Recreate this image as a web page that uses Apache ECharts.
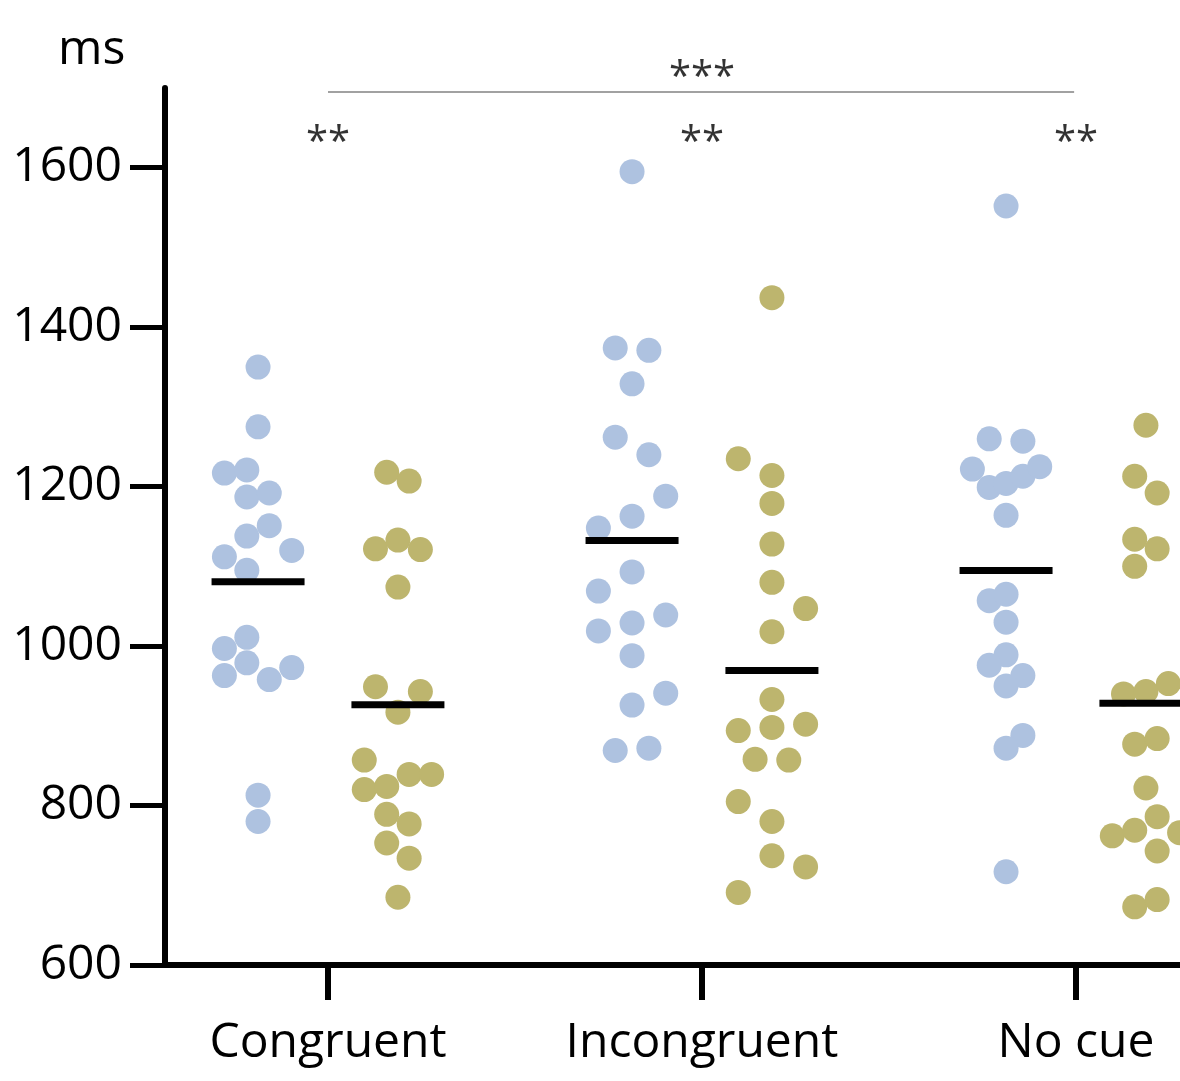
<!DOCTYPE html>
<html>
<head>
<meta charset="utf-8">
<script src="https://cdn.jsdelivr.net/npm/echarts@6.0.0/dist/echarts.min.js"></script>
<style>
    html, body { margin: 0; padding: 0; background: #fff; }
    #chart { width: 1180px; height: 1081px; }
</style>
</head>
<body>
<div id="chart"></div>
<script>
// conditions on the x axis
const categories = ['Congruent', 'Incongruent', 'No cue']
const yTicks = [600, 800, 1000, 1200, 1400, 1600]

// reaction times (ms), blue group
const blueCongruent = [1350, 1275, 1217, 1221, 1187, 1192, 1151, 1138, 1120, 1112, 1095, 1011, 997, 979, 963, 958, 973, 813, 780]
const blueIncongruent = [1595, 1374, 1371, 1329, 1262, 1240, 1188, 1163, 1148, 1093, 1069, 1019, 1029, 1039, 988, 941, 926, 869, 872]
const blueNoCue = [1552, 1260, 1257, 1222, 1199, 1204, 1213, 1225, 1164, 1057, 1065, 1030, 989, 976, 963, 950, 888, 872, 717]

// reaction times (ms), olive group
const oliveCongruent = [1218, 1207, 1122, 1133, 1121, 1074, 949, 943, 917, 857, 820, 824, 839, 839, 789, 777, 753, 734, 685]
const oliveIncongruent = [1437, 1235, 1214, 1179, 1128, 1080, 1047, 1018, 933, 894, 898, 902, 858, 857, 805, 780, 737, 723, 691]
const oliveNoCue = [1277, 1213, 1192, 1134, 1122, 1100, 940, 943, 953, 877, 884, 822, 786, 762, 769, 766, 743, 673, 682]

// swarm jitter of each dot (fraction of the category spacing)
const jitBlueCongruent = [0, 0, -0.09, -0.03, -0.03, 0.03, 0.03, -0.03, 0.09, -0.09, -0.03, -0.03, -0.09, -0.03, -0.09, 0.03, 0.09, 0, 0]
const jitBlueIncongruent = [0, -0.045, 0.045, 0, -0.045, 0.045, 0.09, 0, -0.09, 0, -0.09, -0.09, 0, 0.09, 0, 0.09, 0, -0.045, 0.045]
const jitBlueNoCue = [0, -0.045, 0.045, -0.09, -0.045, 0, 0.045, 0.09, 0, -0.045, 0, 0, 0, -0.045, 0.045, 0, 0.045, 0, 0]
const jitOliveCongruent = [-0.03, 0.03, -0.06, 0, 0.06, 0, -0.06, 0.06, 0, -0.09, -0.09, -0.03, 0.03, 0.09, -0.03, 0.03, -0.03, 0.03, 0]
const jitOliveIncongruent = [0, -0.09, 0, 0, 0, 0, 0.09, 0, 0, -0.09, 0, 0.09, -0.045, 0.045, -0.09, 0, 0, 0.09, -0.09]
const jitOliveNoCue = [0, -0.03, 0.03, -0.03, 0.03, -0.03, -0.06, 0, 0.06, -0.03, 0.03, 0, 0.03, -0.09, -0.03, 0.09, 0.03, -0.03, 0.03]

// significance marks
const sigLabels = ['**', '**', '**', '***']

const BLUE = '#AEC2E0'
const OLIVE = '#BDB56E'
const FONT = '"Open Sans"'
const SHIFT = 0.187

const blueSets = [[blueCongruent, jitBlueCongruent], [blueIncongruent, jitBlueIncongruent], [blueNoCue, jitBlueNoCue]]
const oliveSets = [[oliveCongruent, jitOliveCongruent], [oliveIncongruent, jitOliveIncongruent], [oliveNoCue, jitOliveNoCue]]

function dots(sets, shift) {
    let out = []
    sets.forEach(function (s, i) {
        for (let k = 0; k < s[0].length; k++) {
            out.push([i + 1 + shift + s[1][k], s[0][k]])
        }
    })
    return out
}

function mean(arr) {
    let sum = 0
    for (let i = 0; i < arr.length; i++) sum += arr[i]
    return sum / arr.length
}

let means = []
blueSets.forEach(function (s, i) { means.push([i + 1 - SHIFT, mean(s[0])]) })
oliveSets.forEach(function (s, i) { means.push([i + 1 + SHIFT, mean(s[0])]) })

let chart = echarts.init(document.getElementById('chart'))
chart.setOption({
    animation: false,
    textStyle: { fontFamily: FONT },
    grid: { left: 165, right: 0, top: 88, bottom: 116 },
    xAxis: {
        type: 'value',
        min: 0.5642,
        max: 3.2781,
        axisLine: { onZero: false, lineStyle: { color: '#000', width: 6 } },
        axisTick: { customValues: [1, 2, 3], length: 35, lineStyle: { color: '#000', width: 6 } },
        axisLabel: {
            customValues: [1, 2, 3],
            formatter: function (v) { return categories[Math.round(v) - 1] },
            color: '#000',
            fontSize: 48,
            fontFamily: FONT,
            margin: 54,
        },
        splitLine: { show: false },
    },
    yAxis: {
        type: 'value',
        min: 600,
        max: 1700,
        interval: 200,
        axisLine: { show: true, onZero: false, lineStyle: { color: '#000', width: 6 } },
        axisTick: { show: true, customValues: yTicks, length: 35, lineStyle: { color: '#000', width: 5 } },
        axisLabel: {
            customValues: yTicks,
            formatter: function (v) { return String(v) },
            color: '#000',
            fontSize: 48,
            fontFamily: FONT,
            margin: 43,
        },
        splitLine: { show: false },
    },
    graphic: [{
        type: 'text',
        left: 58,
        top: 26,
        style: { text: 'ms', fontSize: 48, fontFamily: FONT, fill: '#000' },
    }],
    series: [{
        name: 'blue',
        type: 'scatter',
        symbolSize: 25,
        itemStyle: { color: BLUE, opacity: 1 },
        data: dots(blueSets, -SHIFT),
        z: 2,
    }, {
        name: 'olive',
        type: 'scatter',
        symbolSize: 25,
        itemStyle: { color: OLIVE, opacity: 1 },
        data: dots(oliveSets, SHIFT),
        z: 2,
    }, {
        name: 'mean',
        type: 'scatter',
        symbol: 'rect',
        symbolSize: [93, 7],
        itemStyle: { color: '#000', opacity: 1 },
        data: means,
        z: 3,
    }, {
        name: 'bracket',
        type: 'line',
        symbol: 'none',
        clip: false,
        lineStyle: { color: '#444', width: 1.2 },
        data: [[1, 1695], [2.995, 1695]],
        z: 1,
    }, {
        name: 'sig',
        type: 'scatter',
        symbolSize: 0,
        clip: false,
        label: {
            show: true,
            position: 'inside',
            formatter: function (p) { return p.value[2] },
            color: '#000',
            fontSize: 40,
            fontFamily: FONT,
        },
        data: [[1, 1630, sigLabels[0]], [2, 1630, sigLabels[1]], [3, 1630, sigLabels[2]], [2, 1712, sigLabels[3]]],
        z: 4,
    }],
})
</script>
</body>
</html>
